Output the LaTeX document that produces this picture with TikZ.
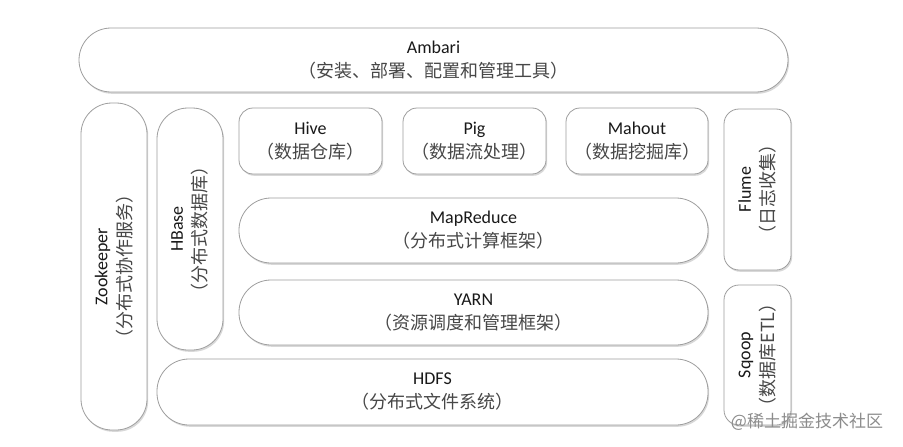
\documentclass[tikz,border=0pt]{standalone}
\usepackage{fontspec}
\setmainfont{Carlito}
\newfontfamily\cjk{Noto Sans CJK SC}
\usetikzlibrary{shadows}
\newcommand\zhline[1]{{\cjk\color{black!72}#1}}
\tikzset{
  box/.style={draw=black!38, line width=0.8pt, fill=white, inner sep=0pt,
    align=center, text=black!90, font=\fontsize{18}{24}\selectfont,
    drop shadow={shadow xshift=1.2pt, shadow yshift=-1.8pt, fill=black!25, opacity=0.6}},
  pill/.style={box, rounded corners=32pt},
  tile/.style={box, rounded corners=14pt},
  wmark/.style={font=\fontsize{17}{17}\selectfont\cjk, text=black!45, inner sep=0pt}
}
\begin{document}
\begin{tikzpicture}[x=1pt,y=-1pt]
\useasboundingbox[fill=white] (0,0) rectangle (903,447);
\node[pill, minimum width=709pt, minimum height=64pt] (ambari) at (433.5,60)
  {Ambari\\\zhline{（安装、部署、配置和管理工具）}};
\node[box, rotate=90, rounded corners=31pt, minimum width=327pt, minimum height=66pt] (zk) at (114,266.5)
  {Zookeeper\\\zhline{（分布式协作服务）}};
\node[box, rotate=90, rounded corners=31pt, minimum width=242pt, minimum height=66pt] (hbase) at (190,229)
  {HBase\\\zhline{（分布式数据库）}};
\node[tile, minimum width=143pt, minimum height=66pt] (hive) at (310.5,141)
  {Hive\\\zhline{（数据仓库）}};
\node[tile, minimum width=143pt, minimum height=66pt] (pig) at (474.5,141)
  {Pig\\\zhline{（数据流处理）}};
\node[tile, minimum width=142pt, minimum height=66pt] (mahout) at (637,141)
  {Mahout\\\zhline{（数据挖掘库）}};
\node[box, rotate=90, rounded corners=15pt, minimum width=161pt, minimum height=67pt] (flume) at (757.5,189.5)
  {Flume\\\zhline{（日志收集）}};
\node[pill, minimum width=469pt, minimum height=65pt] (mr) at (473.5,230.5)
  {MapReduce\\\zhline{（分布式计算框架）}};
\node[pill, minimum width=469pt, minimum height=65pt] (yarn) at (473.5,312.5)
  {YARN\\\zhline{（资源调度和管理框架）}};
\node[pill, minimum width=551pt, minimum height=66pt] (hdfs) at (432.5,392)
  {HDFS\\\zhline{（分布式文件系统）}};
\node[box, rotate=90, rounded corners=15pt, minimum width=140pt, minimum height=67pt] (sqoop) at (757.5,355)
  {Sqoop\\\zhline{（数据库ETL）}};
\node[wmark] (wm) at (807,422) {@稀土掘金技术社区};
\end{tikzpicture}
\end{document}
